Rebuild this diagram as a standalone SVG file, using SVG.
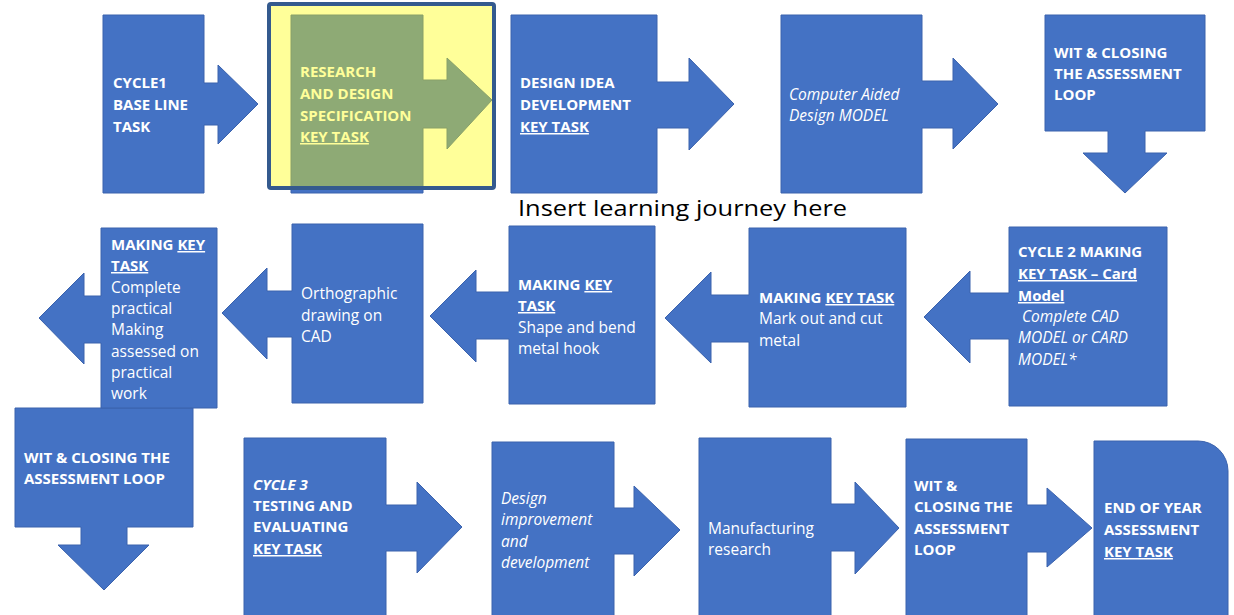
<svg xmlns="http://www.w3.org/2000/svg" width="1234" height="615" viewBox="0 0 1234 615">
<style>
.s{fill:#4472C4;stroke:#3A62AD;stroke-width:1}
.b{font-family:"Open Sans","Liberation Sans",sans-serif;font-weight:bold;font-size:15px;fill:#fff}
.r{font-family:"Open Sans","Liberation Sans",sans-serif;font-size:15.5px;fill:#fff}
.i{font-style:italic}
.u{text-decoration:underline}
</style>
<rect width="1234" height="615" fill="#fff"/>
<g id="connectors"/>
<g id="n1">
<path class="s" d="M103,15H204V83H218V65L258,104L218,144V125H204V193H103Z"/>
<text class="b" x="113" y="88">CYCLE1</text>
<text class="b" x="113" y="110">BASE LINE</text>
<text class="b" x="113" y="131.5">TASK</text>
</g>
<g id="n2">
<path class="s" d="M291,15H423V80H447V58L492,100L447,149V128H423V193H291Z"/>
<text class="b" x="300" y="77">RESEARCH</text>
<text class="b" x="300" y="99">AND DESIGN</text>
<text class="b" x="300" y="121">SPECIFICATION</text>
<text class="b u" x="300" y="142">KEY TASK</text>
<rect x="269" y="4" width="225" height="184" rx="2" fill="#FFFF00" fill-opacity="0.4" stroke="#345A8E" stroke-width="4"/>
</g>
<g id="n3">
<path class="s" d="M511,15H657V82H689V58L734,104L689,150V128H657V193H511Z"/>
<text class="b" x="520" y="88">DESIGN IDEA</text>
<text class="b" x="520" y="110">DEVELOPMENT</text>
<text class="b u" x="520" y="132">KEY TASK</text>
</g>
<g id="n4">
<path class="s" d="M781,15H922V81H953V58L998,104L953,149V128H922V193H781Z"/>
<text class="r i" x="789" y="100">Computer Aided</text>
<text class="r i" x="789" y="121">Design MODEL</text>
</g>
<g id="n5">
<path class="s" d="M1045,15H1205V131H1145V153H1167L1125,193L1083,153H1108V131H1045Z"/>
<text class="b" x="1054" y="58">WIT &amp; CLOSING</text>
<text class="b" x="1054" y="79">THE ASSESSMENT</text>
<text class="b" x="1054" y="100">LOOP</text>
</g>
<text x="518" y="216" font-family="'Open Sans','Liberation Sans',sans-serif" font-size="22.5" fill="#000" textLength="329" lengthAdjust="spacingAndGlyphs">Insert learning journey here</text>
<g id="n6">
<path class="s" d="M1167,227H1009V293H970V271L924,317L970,363V339H1009V406H1167Z"/>
<text class="b" x="1018" y="257">CYCLE 2 MAKING</text>
<text class="b u" x="1018" y="279">KEY TASK – Card</text>
<text class="b u" x="1018" y="301">Model</text>
<text class="r i" x="1022" y="322">Complete CAD</text>
<text class="r i" x="1018" y="343">MODEL or CARD</text>
<text class="r i" x="1018" y="365">MODEL*</text>
</g>
<g id="n7">
<path class="s" d="M906,228H749V295H711V272L665,318L711,363V342H749V407H906Z"/>
<text class="b" x="759" y="303">MAKING <tspan class="u">KEY TASK</tspan></text>
<text class="r" x="759" y="324">Mark out and cut</text>
<text class="r" x="759" y="346">metal</text>
</g>
<g id="n8">
<path class="s" d="M655,226H509V292H476V270L430,316L476,362V339H509V404H655Z"/>
<text class="b" x="518" y="290">MAKING <tspan class="u">KEY</tspan></text>
<text class="b u" x="518" y="311">TASK</text>
<text class="r" x="518" y="333">Shape and bend</text>
<text class="r" x="518" y="354">metal hook</text>
</g>
<g id="n9">
<path class="s" d="M423,224H292V291H267V268L222,313L267,359V337H292V403H423Z"/>
<text class="r" x="301" y="299">Orthographic</text>
<text class="r" x="301" y="321">drawing on</text>
<text class="r" x="301" y="342">CAD</text>
</g>
<g id="n11">
<path class="s" d="M15,408H193V527H127V545H149L104,590L58,545H81V527H15Z"/>
<text class="b" x="24" y="463">WIT &amp; CLOSING THE</text>
<text class="b" x="24" y="484">ASSESSMENT LOOP</text>
</g>
<g id="n10">
<path class="s" d="M217,228H101V296H84V273L39,318L84,364V343H101V408H217Z"/>
<text class="b" x="111" y="250">MAKING <tspan class="u">KEY</tspan></text>
<text class="b u" x="111" y="271">TASK</text>
<text class="r" x="111" y="293">Complete</text>
<text class="r" x="111" y="314">practical</text>
<text class="r" x="111" y="335">Making</text>
<text class="r" x="111" y="357">assessed on</text>
<text class="r" x="111" y="378">practical</text>
<text class="r" x="111" y="399">work</text>
</g>
<g id="n12">
<path class="s" d="M244,438H386V505H417V482L462,527L417,573V551H386V620H244Z"/>
<text class="b i" x="253" y="490">CYCLE 3</text>
<text class="b" x="253" y="511">TESTING AND</text>
<text class="b" x="253" y="532">EVALUATING</text>
<text class="b u" x="253" y="554">KEY TASK</text>
</g>
<g id="n13">
<path class="s" d="M492,442H614V508H634V486L680,530L634,576V554H614V620H492Z"/>
<text class="r i" x="501" y="504">Design</text>
<text class="r i" x="501" y="525">improvement</text>
<text class="r i" x="501" y="547">and</text>
<text class="r i" x="501" y="568">development</text>
</g>
<g id="n14">
<path class="s" d="M699,438H831V504H855V482L899,528L855,574V551H831V620H699Z"/>
<text class="r" x="708" y="534">Manufacturing</text>
<text class="r" x="708" y="555">research</text>
</g>
<g id="n15">
<path class="s" d="M906,439H1027V505H1047V488L1092,528L1047,567V552H1027V620H906Z"/>
<text class="b" x="914" y="491">WIT &amp;</text>
<text class="b" x="914" y="512">CLOSING THE</text>
<text class="b" x="914" y="534">ASSESSMENT</text>
<text class="b" x="914" y="555">LOOP</text>
</g>
<g id="n16">
<path class="s" d="M1094,441H1198A30,30 0 0 1 1228,471V620H1094Z"/>
<text class="b" x="1104" y="513">END OF YEAR</text>
<text class="b" x="1104" y="535">ASSESSMENT</text>
<text class="b u" x="1104" y="557">KEY TASK</text>
</g>
</svg>
